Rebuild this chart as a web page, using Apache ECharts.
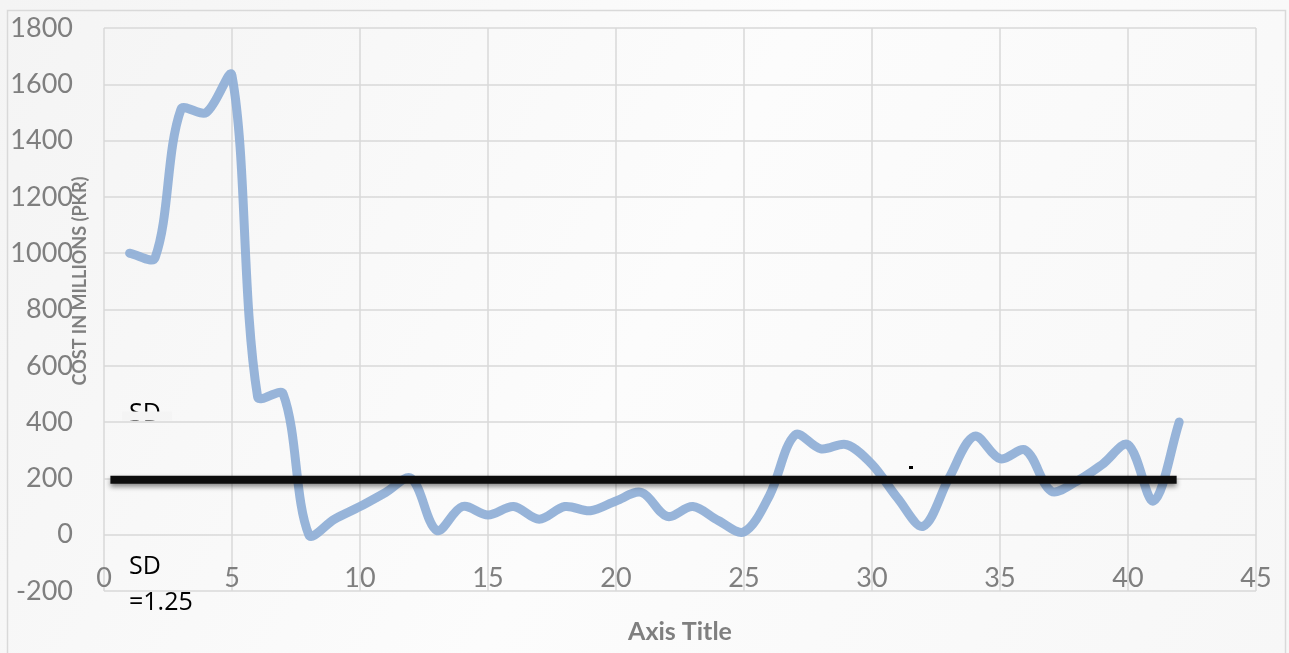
<!DOCTYPE html>
<html>
<head>
<meta charset="utf-8">
<script src="https://cdn.jsdelivr.net/npm/echarts@6/dist/echarts.min.js"></script>
<style>
  html, body { margin: 0; padding: 0; background: #ffffff; }
  #chart { width: 1289px; height: 653px; }
</style>
</head>
<body>
<div id="chart"></div>
<script>
// Project index (x) and cost in millions of PKR (y)
const xValues = [1, 2, 3, 4, 5, 6, 7, 8, 9, 10, 11, 12, 13, 14, 15, 16, 17, 18, 19, 20, 21,
                 22, 23, 24, 25, 26, 27, 28, 29, 30, 31, 32, 33, 34, 35, 36, 37, 38, 39, 40, 41, 42];
const costValues = [1000, 985, 1510, 1500, 1630, 490, 500, 0, 55, 100, 150, 200, 15, 100, 70, 100, 55, 100, 85, 120, 150,
                    65, 100, 50, 10, 140, 355, 305, 320, 250, 130, 30, 200, 350, 270, 300, 155, 190, 250, 320, 120, 400];

// Horizontal reference line (mean level)
const refLineX = [0.25, 41.9];
const refLineY = [195, 195];

// Axis ranges and ticks
const xTicks = { min: 0, max: 45, interval: 5 };
const yTicks = { min: -200, max: 1800, interval: 200 };

const yAxisTitle = 'COST IN MILLIONS (PKR)';
const xAxisTitle = 'Axis Title';
const sdLabel = 'SD';
const sdValue = '=1.25';

const grey = '#7f7f7f';
const gridColor = '#d9d9d9';
const fontFamily = 'Lato, "Open Sans", sans-serif';
const noteFont = '25px "Open Sans", Lato, sans-serif';
const W = 1289, H = 653;

// Page background, shared by the chart and the panel that masks a label
const pageFill = {
  type: 'linear', x: 0, y: 0, x2: W, y2: H, global: true,
  colorStops: [
    { offset: 0, color: '#f4f4f4' },
    { offset: 0.5, color: '#fcfcfc' },
    { offset: 1, color: '#f7f7f7' }
  ]
};

const costPoints = xValues.map((x, i) => [x, costValues[i]]);

// Smoothed cost curve: cubic Bezier segments through every point;
// tangents span the neighbours and are split by segment length.
function renderCostCurve(params, api) {
  if (params.dataIndex !== 0) return null;
  const p = costPoints.map(d => api.coord(d));
  const dist = (a, b) => Math.hypot(b[0] - a[0], b[1] - a[1]);
  const s = 1 / 3;
  let d = 'M' + p[0][0] + ' ' + p[0][1];
  for (let i = 0; i < p.length - 1; i++) {
    const p0 = p[Math.max(i - 1, 0)];
    const p1 = p[i];
    const p2 = p[i + 1];
    const p3 = p[Math.min(i + 2, p.length - 1)];
    const a1 = dist(p0, p1), b1 = dist(p1, p2);
    const a2 = dist(p1, p2), b2 = dist(p2, p3);
    const k1 = (a1 + b1) > 0 ? s * b1 / (a1 + b1) : 0;
    const k2 = (a2 + b2) > 0 ? s * a2 / (a2 + b2) : 0;
    const c1x = p1[0] + (p2[0] - p0[0]) * k1;
    const c1y = p1[1] + (p2[1] - p0[1]) * k1;
    const c2x = p2[0] - (p3[0] - p1[0]) * k2;
    const c2y = p2[1] - (p3[1] - p1[1]) * k2;
    d += ' C' + c1x + ' ' + c1y + ' ' + c2x + ' ' + c2y + ' ' + p2[0] + ' ' + p2[1];
  }
  return {
    type: 'path',
    shape: { pathData: d },
    style: {
      fill: null, stroke: '#8eaed6', lineWidth: 9, opacity: 0.92,
      lineCap: 'round', lineJoin: 'round'
    }
  };
}

const chart = echarts.init(document.getElementById('chart'));

chart.setOption({
  animation: false,
  backgroundColor: pageFill,
  grid: { left: 104, right: 33, top: 28, bottom: 62, containLabel: false },
  xAxis: {
    type: 'value',
    min: xTicks.min, max: xTicks.max, interval: xTicks.interval,
    axisLine: { show: false },
    axisTick: { show: false },
    axisLabel: {
      color: grey, fontSize: 27, fontFamily: fontFamily,
      margin: -13, verticalAlign: 'middle',
      showMinLabel: true, showMaxLabel: true
    },
    splitLine: { show: true, lineStyle: { color: gridColor, width: 1.5 } }
  },
  yAxis: {
    type: 'value',
    min: yTicks.min, max: yTicks.max, interval: yTicks.interval,
    axisLine: { show: false },
    axisTick: { show: false },
    axisLabel: {
      color: grey, fontSize: 27, fontFamily: fontFamily, margin: 31,
      formatter: v => String(v)
    },
    splitLine: { show: true, lineStyle: { color: gridColor, width: 1.5 } }
  },
  series: [
    {
      type: 'custom',
      data: costPoints,
      renderItem: renderCostCurve,
      clip: true,
      z: 2
    },
    {
      type: 'line',
      data: refLineX.map((x, i) => [x, refLineY[i]]),
      showSymbol: false,
      lineStyle: {
        color: '#0d0d0d', width: 8,
        shadowColor: 'rgba(0,0,0,0.45)', shadowBlur: 5, shadowOffsetY: 3
      },
      z: 3
    }
  ],
  graphic: [
    {
      type: 'rect', left: 5, top: 8, silent: true,
      shape: { width: 1278, height: 700 },
      style: { fill: 'none', stroke: '#d9d9d9', lineWidth: 1.5 }
    },
    {
      type: 'text', rotation: Math.PI / 2, x: 80, y: 281, silent: true, z: 10,
      style: {
        text: yAxisTitle, fill: grey, font: 'bold 18px ' + fontFamily,
        align: 'center', verticalAlign: 'middle'
      }
    },
    {
      type: 'text', x: 680, y: 632, silent: true,
      style: {
        text: xAxisTitle, fill: grey, font: 'bold 25px ' + fontFamily,
        align: 'center', verticalAlign: 'middle'
      }
    },
    {
      type: 'text', x: 129, y: 567, silent: true, z: 10,
      style: { text: sdLabel, fill: '#000', font: noteFont, verticalAlign: 'middle' }
    },
    {
      type: 'text', x: 129, y: 603, silent: true, z: 10,
      style: { text: sdValue, fill: '#000', font: noteFont, verticalAlign: 'middle' }
    },
    // a second SD label, its lower part hidden under a background-coloured panel
    {
      type: 'text', x: 129, y: 414, silent: true, z: 10,
      style: { text: sdLabel, fill: '#000', font: noteFont, verticalAlign: 'middle' }
    },
    {
      type: 'rect', left: 122, top: 411.5, silent: true, z: 11,
      shape: { width: 50, height: 9 },
      style: { fill: pageFill }
    },
    {
      type: 'rect', left: 909, top: 466, silent: true, z: 10,
      shape: { width: 4, height: 3 },
      style: { fill: '#000' }
    }
  ]
});
</script>
</body>
</html>
